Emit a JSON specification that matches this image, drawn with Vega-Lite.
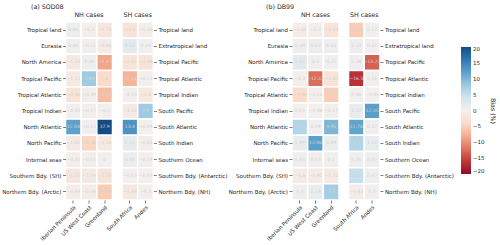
{
  "$schema": "https://vega.github.io/schema/vega-lite/v6.json",
  "padding": {"left": 1, "top": 3, "right": 3, "bottom": 3},
  "datasets": {
    "d": [
      {"p":"a","h":"NH","r":"Tropical land","c":"Iberian Peninsula","v":0.86},
      {"p":"a","h":"NH","r":"Tropical land","c":"US West Coast","v":-0.3},
      {"p":"a","h":"NH","r":"Tropical land","c":"Greenland","v":-1.72},
      {"p":"a","h":"NH","r":"Eurasia","c":"Iberian Peninsula","v":0.48},
      {"p":"a","h":"NH","r":"Eurasia","c":"US West Coast","v":-0.11},
      {"p":"a","h":"NH","r":"Eurasia","c":"Greenland","v":-0.86},
      {"p":"a","h":"NH","r":"North America","c":"Iberian Peninsula","v":-1.33},
      {"p":"a","h":"NH","r":"North America","c":"US West Coast","v":0.38},
      {"p":"a","h":"NH","r":"North America","c":"Greenland","v":-8.47},
      {"p":"a","h":"NH","r":"Tropical Pacific","c":"Iberian Peninsula","v":-1.11},
      {"p":"a","h":"NH","r":"Tropical Pacific","c":"US West Coast","v":7.88},
      {"p":"a","h":"NH","r":"Tropical Pacific","c":"Greenland","v":-4.0},
      {"p":"a","h":"NH","r":"Tropical Atlantic","c":"Iberian Peninsula","v":-2.46},
      {"p":"a","h":"NH","r":"Tropical Atlantic","c":"US West Coast","v":-0.39},
      {"p":"a","h":"NH","r":"Tropical Atlantic","c":"Greenland","v":-6.64},
      {"p":"a","h":"NH","r":"Tropical Indian","c":"Iberian Peninsula","v":-0.05},
      {"p":"a","h":"NH","r":"Tropical Indian","c":"US West Coast","v":-0.17},
      {"p":"a","h":"NH","r":"Tropical Indian","c":"Greenland","v":-0.2},
      {"p":"a","h":"NH","r":"North Atlantic","c":"Iberian Peninsula","v":12.04},
      {"p":"a","h":"NH","r":"North Atlantic","c":"US West Coast","v":-0.12},
      {"p":"a","h":"NH","r":"North Atlantic","c":"Greenland","v":37.9},
      {"p":"a","h":"NH","r":"North Pacific","c":"Iberian Peninsula","v":-1.01},
      {"p":"a","h":"NH","r":"North Pacific","c":"US West Coast","v":-4.36},
      {"p":"a","h":"NH","r":"North Pacific","c":"Greenland","v":-1.26},
      {"p":"a","h":"NH","r":"Internal seas","c":"Iberian Peninsula","v":-0.31},
      {"p":"a","h":"NH","r":"Internal seas","c":"US West Coast","v":-0.11},
      {"p":"a","h":"NH","r":"Internal seas","c":"Greenland","v":0.0},
      {"p":"a","h":"NH","r":"Southern Bdy. (SH)","c":"Iberian Peninsula","v":-1.51},
      {"p":"a","h":"NH","r":"Southern Bdy. (SH)","c":"US West Coast","v":-1.09},
      {"p":"a","h":"NH","r":"Southern Bdy. (SH)","c":"Greenland","v":-2.05},
      {"p":"a","h":"NH","r":"Northern Bdy. (Arctic)","c":"Iberian Peninsula","v":-0.69},
      {"p":"a","h":"NH","r":"Northern Bdy. (Arctic)","c":"US West Coast","v":-0.56},
      {"p":"a","h":"NH","r":"Northern Bdy. (Arctic)","c":"Greenland","v":-5.34},
      {"p":"a","h":"SH","r":"Tropical land","c":"South Africa","v":-2.4},
      {"p":"a","h":"SH","r":"Tropical land","c":"Andes","v":-0.33},
      {"p":"a","h":"SH","r":"Extratropical land","c":"South Africa","v":2.13},
      {"p":"a","h":"SH","r":"Extratropical land","c":"Andes","v":0.19},
      {"p":"a","h":"SH","r":"Tropical Pacific","c":"South Africa","v":-2.41},
      {"p":"a","h":"SH","r":"Tropical Pacific","c":"Andes","v":-2.38},
      {"p":"a","h":"SH","r":"Tropical Atlantic","c":"South Africa","v":-7.34},
      {"p":"a","h":"SH","r":"Tropical Atlantic","c":"Andes","v":-0.11},
      {"p":"a","h":"SH","r":"Tropical Indian","c":"South Africa","v":-0.15},
      {"p":"a","h":"SH","r":"Tropical Indian","c":"Andes","v":-1.6},
      {"p":"a","h":"SH","r":"South Pacific","c":"South Africa","v":-1.22},
      {"p":"a","h":"SH","r":"South Pacific","c":"Andes","v":7.9},
      {"p":"a","h":"SH","r":"South Atlantic","c":"South Africa","v":13.4},
      {"p":"a","h":"SH","r":"South Atlantic","c":"Andes","v":-0.09},
      {"p":"a","h":"SH","r":"South Indian","c":"South Africa","v":1.52},
      {"p":"a","h":"SH","r":"South Indian","c":"Andes","v":-0.65},
      {"p":"a","h":"SH","r":"Southern Ocean","c":"South Africa","v":0.85},
      {"p":"a","h":"SH","r":"Southern Ocean","c":"Andes","v":-0.19},
      {"p":"a","h":"SH","r":"Southern Bdy. (Antarctic)","c":"South Africa","v":-0.03},
      {"p":"a","h":"SH","r":"Southern Bdy. (Antarctic)","c":"Andes","v":-0.03},
      {"p":"a","h":"SH","r":"Northern Bdy. (NH)","c":"South Africa","v":-1.48},
      {"p":"a","h":"SH","r":"Northern Bdy. (NH)","c":"Andes","v":-0.3},
      {"p":"b","h":"NH","r":"Tropical land","c":"Iberian Peninsula","v":-0.62},
      {"p":"b","h":"NH","r":"Tropical land","c":"US West Coast","v":-0.2},
      {"p":"b","h":"NH","r":"Tropical land","c":"Greenland","v":-2.43},
      {"p":"b","h":"NH","r":"Eurasia","c":"Iberian Peninsula","v":0.39},
      {"p":"b","h":"NH","r":"Eurasia","c":"US West Coast","v":0.67},
      {"p":"b","h":"NH","r":"Eurasia","c":"Greenland","v":0.53},
      {"p":"b","h":"NH","r":"North America","c":"Iberian Peninsula","v":1.92},
      {"p":"b","h":"NH","r":"North America","c":"US West Coast","v":0.3},
      {"p":"b","h":"NH","r":"North America","c":"Greenland","v":0.21},
      {"p":"b","h":"NH","r":"Tropical Pacific","c":"Iberian Peninsula","v":-0.3},
      {"p":"b","h":"NH","r":"Tropical Pacific","c":"US West Coast","v":-12.33},
      {"p":"b","h":"NH","r":"Tropical Pacific","c":"Greenland","v":-2.45},
      {"p":"b","h":"NH","r":"Tropical Atlantic","c":"Iberian Peninsula","v":-3.94},
      {"p":"b","h":"NH","r":"Tropical Atlantic","c":"US West Coast","v":-0.23},
      {"p":"b","h":"NH","r":"Tropical Atlantic","c":"Greenland","v":-5.2},
      {"p":"b","h":"NH","r":"Tropical Indian","c":"Iberian Peninsula","v":0.03},
      {"p":"b","h":"NH","r":"Tropical Indian","c":"US West Coast","v":-0.08},
      {"p":"b","h":"NH","r":"Tropical Indian","c":"Greenland","v":-0.17},
      {"p":"b","h":"NH","r":"North Atlantic","c":"Iberian Peninsula","v":6.31},
      {"p":"b","h":"NH","r":"North Atlantic","c":"US West Coast","v":0.29},
      {"p":"b","h":"NH","r":"North Atlantic","c":"Greenland","v":9.95},
      {"p":"b","h":"NH","r":"North Pacific","c":"Iberian Peninsula","v":1.09},
      {"p":"b","h":"NH","r":"North Pacific","c":"US West Coast","v":12.06},
      {"p":"b","h":"NH","r":"North Pacific","c":"Greenland","v":0.69},
      {"p":"b","h":"NH","r":"Internal seas","c":"Iberian Peninsula","v":0.43},
      {"p":"b","h":"NH","r":"Internal seas","c":"US West Coast","v":0.22},
      {"p":"b","h":"NH","r":"Internal seas","c":"Greenland","v":0.1},
      {"p":"b","h":"NH","r":"Southern Bdy. (SH)","c":"Iberian Peninsula","v":-0.8},
      {"p":"b","h":"NH","r":"Southern Bdy. (SH)","c":"US West Coast","v":-0.91},
      {"p":"b","h":"NH","r":"Southern Bdy. (SH)","c":"Greenland","v":-1.23},
      {"p":"b","h":"NH","r":"Northern Bdy. (Arctic)","c":"Iberian Peninsula","v":0.4},
      {"p":"b","h":"NH","r":"Northern Bdy. (Arctic)","c":"US West Coast","v":1.29},
      {"p":"b","h":"NH","r":"Northern Bdy. (Arctic)","c":"Greenland","v":7.4},
      {"p":"b","h":"SH","r":"Tropical land","c":"South Africa","v":-5.36},
      {"p":"b","h":"SH","r":"Tropical land","c":"Andes","v":0.17},
      {"p":"b","h":"SH","r":"Extratropical land","c":"South Africa","v":0.33},
      {"p":"b","h":"SH","r":"Extratropical land","c":"Andes","v":0.31},
      {"p":"b","h":"SH","r":"Tropical Pacific","c":"South Africa","v":0.38},
      {"p":"b","h":"SH","r":"Tropical Pacific","c":"Andes","v":-13.23},
      {"p":"b","h":"SH","r":"Tropical Atlantic","c":"South Africa","v":-16.5},
      {"p":"b","h":"SH","r":"Tropical Atlantic","c":"Andes","v":0.16},
      {"p":"b","h":"SH","r":"Tropical Indian","c":"South Africa","v":0.06},
      {"p":"b","h":"SH","r":"Tropical Indian","c":"Andes","v":-0.05},
      {"p":"b","h":"SH","r":"South Pacific","c":"South Africa","v":1.12},
      {"p":"b","h":"SH","r":"South Pacific","c":"Andes","v":12.35},
      {"p":"b","h":"SH","r":"South Atlantic","c":"South Africa","v":11.76},
      {"p":"b","h":"SH","r":"South Atlantic","c":"Andes","v":0.27},
      {"p":"b","h":"SH","r":"South Indian","c":"South Africa","v":6.5},
      {"p":"b","h":"SH","r":"South Indian","c":"Andes","v":1.32},
      {"p":"b","h":"SH","r":"Southern Ocean","c":"South Africa","v":0.35},
      {"p":"b","h":"SH","r":"Southern Ocean","c":"Andes","v":0.42},
      {"p":"b","h":"SH","r":"Southern Bdy. (Antarctic)","c":"South Africa","v":4.88},
      {"p":"b","h":"SH","r":"Southern Bdy. (Antarctic)","c":"Andes","v":0.47},
      {"p":"b","h":"SH","r":"Northern Bdy. (NH)","c":"South Africa","v":-0.63},
      {"p":"b","h":"SH","r":"Northern Bdy. (NH)","c":"Andes","v":0.3}
    ]
  },
  "config": {
    "font": "DejaVu Sans",
    "view": {"stroke": null},
    "axis": {"labelFontSize": 5.5, "tickSize": 3, "domain": false, "grid": false, "labelColor": "#262626", "tickColor": "#262626", "tickWidth": 0.6, "labelPadding": 1.5, "titleFontSize": 6.3, "titleFontWeight": "normal", "titleColor": "#262626"},
    "title": {"fontSize": 6.3, "fontWeight": "normal", "color": "#262626"},
    "legend": {"labelFontSize": 5.5, "titleFontSize": 6.3, "titleFontWeight": "normal", "labelColor": "#262626", "titleColor": "#262626"}
  },
  "bounds": "flush",
  "spacing": 9.5,
  "hconcat": [
    {
      "width": 1, "height": 178,
      "title": {"text": "(a) SOD08", "anchor": "start", "frame": "group", "dx": -24, "offset": 12},
      "data": {"values": []},
      "mark": "point",
      "encoding": {}
    },
    {
      "width": 47, "height": 178,
      "data": {"name": "d"},
      "title": {"text": "NH cases", "offset": 3},
      "transform": [{"filter": "datum.p == 'a' && datum.h == 'NH'"}],
      "encoding": {
        "x": {"field": "c", "type": "nominal", "sort": ["Iberian Peninsula", "US West Coast", "Greenland"], "axis": {"orient": "bottom", "title": null, "labelAngle": -45}},
        "y": {"field": "r", "type": "nominal", "sort": ["Tropical land","Eurasia","North America","Tropical Pacific","Tropical Atlantic","Tropical Indian","North Atlantic","North Pacific","Internal seas","Southern Bdy. (SH)","Northern Bdy. (Arctic)"], "axis": {"orient": "left", "title": null}}
      },
      "layer": [
        {"mark": {"type": "rect", "stroke": "white", "strokeWidth": 1.5},
         "encoding": {"color": {"field": "v", "type": "quantitative", "scale": {"scheme": "redblue", "domain": [-20, 20], "clamp": true},
           "legend": {"title": "Bias (%)", "titleOrient": "right", "orient": "none", "legendX": 406, "legendY": 25, "gradientLength": 127, "gradientThickness": 10, "values": [-20, -15, -10, -5, 0, 5, 10, 15, 20]}}}},
        {"mark": {"type": "text", "fontSize": 4.5, "color": "#d3d3d3"},
         "encoding": {"text": {"field": "v", "type": "quantitative"}}}
      ]
    },
    {
      "width": 31.4, "height": 178,
      "data": {"name": "d"},
      "title": {"text": "SH cases", "offset": 3},
      "transform": [{"filter": "datum.p == 'a' && datum.h == 'SH'"}],
      "encoding": {
        "x": {"field": "c", "type": "nominal", "sort": ["South Africa", "Andes"], "axis": {"orient": "bottom", "title": null, "labelAngle": -45}},
        "y": {"field": "r", "type": "nominal", "sort": ["Tropical land","Extratropical land","Tropical Pacific","Tropical Atlantic","Tropical Indian","South Pacific","South Atlantic","South Indian","Southern Ocean","Southern Bdy. (Antarctic)","Northern Bdy. (NH)"], "axis": {"orient": "right", "title": null}}
      },
      "layer": [
        {"mark": {"type": "rect", "stroke": "white", "strokeWidth": 1.5},
         "encoding": {"color": {"field": "v", "type": "quantitative", "scale": {"scheme": "redblue", "domain": [-20, 20], "clamp": true}}}},
        {"mark": {"type": "text", "fontSize": 4.5, "color": "#d3d3d3"},
         "encoding": {"text": {"field": "v", "type": "quantitative"}}}
      ]
    },
    {
      "width": 119, "height": 178,
      "title": {"text": "(b) DB99", "anchor": "start", "frame": "group", "dx": 102.5, "offset": 12},
      "data": {"values": []},
      "mark": "point",
      "encoding": {}
    },
    {
      "width": 47, "height": 178,
      "data": {"name": "d"},
      "title": {"text": "NH cases", "offset": 3},
      "transform": [{"filter": "datum.p == 'b' && datum.h == 'NH'"}],
      "encoding": {
        "x": {"field": "c", "type": "nominal", "sort": ["Iberian Peninsula", "US West Coast", "Greenland"], "axis": {"orient": "bottom", "title": null, "labelAngle": -45}},
        "y": {"field": "r", "type": "nominal", "sort": ["Tropical land","Eurasia","North America","Tropical Pacific","Tropical Atlantic","Tropical Indian","North Atlantic","North Pacific","Internal seas","Southern Bdy. (SH)","Northern Bdy. (Arctic)"], "axis": {"orient": "left", "title": null}}
      },
      "layer": [
        {"mark": {"type": "rect", "stroke": "white", "strokeWidth": 1.5},
         "encoding": {"color": {"field": "v", "type": "quantitative", "scale": {"scheme": "redblue", "domain": [-20, 20], "clamp": true}}}},
        {"mark": {"type": "text", "fontSize": 4.5, "color": "#d3d3d3"},
         "encoding": {"text": {"field": "v", "type": "quantitative"}}}
      ]
    },
    {
      "width": 31.4, "height": 178,
      "data": {"name": "d"},
      "title": {"text": "SH cases", "offset": 3},
      "transform": [{"filter": "datum.p == 'b' && datum.h == 'SH'"}],
      "encoding": {
        "x": {"field": "c", "type": "nominal", "sort": ["South Africa", "Andes"], "axis": {"orient": "bottom", "title": null, "labelAngle": -45}},
        "y": {"field": "r", "type": "nominal", "sort": ["Tropical land","Extratropical land","Tropical Pacific","Tropical Atlantic","Tropical Indian","South Pacific","South Atlantic","South Indian","Southern Ocean","Southern Bdy. (Antarctic)","Northern Bdy. (NH)"], "axis": {"orient": "right", "title": null}}
      },
      "layer": [
        {"mark": {"type": "rect", "stroke": "white", "strokeWidth": 1.5},
         "encoding": {"color": {"field": "v", "type": "quantitative", "scale": {"scheme": "redblue", "domain": [-20, 20], "clamp": true}}}},
        {"mark": {"type": "text", "fontSize": 4.5, "color": "#d3d3d3"},
         "encoding": {"text": {"field": "v", "type": "quantitative"}}}
      ]
    }
  ]
}
